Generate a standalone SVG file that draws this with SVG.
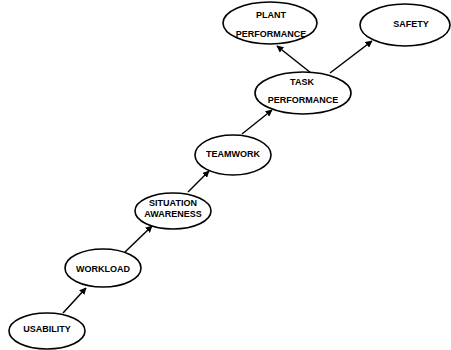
<svg xmlns="http://www.w3.org/2000/svg" width="451" height="350" viewBox="0 0 451 350">
<defs>
<style>
.n ellipse{fill:#fff;stroke:#000;stroke-width:1.6}
.n text{font-family:"Liberation Sans",Arial,sans-serif;font-weight:bold;font-size:9px;text-anchor:middle;fill:#000}
.c line{stroke:#000;stroke-width:1.5;marker-end:url(#ah)}
</style>
<marker id="ah" viewBox="0 0 10 10" refX="9" refY="5" markerWidth="7" markerHeight="7" markerUnits="userSpaceOnUse" orient="auto">
<path d="M0,0 L10,5 L0,10 z" fill="#000"/>
</marker>
</defs>
<rect width="451" height="350" fill="#fff"/>
<g id="connectors" class="c">
<line x1="63" y1="313" x2="86" y2="288"/>
<line x1="125" y1="252" x2="152" y2="226"/>
<line x1="188" y1="192" x2="209" y2="171"/>
<line x1="242" y1="134" x2="272" y2="110"/>
<line x1="311" y1="73" x2="277" y2="46"/>
<line x1="330" y1="73" x2="372" y2="41"/>
</g>
<g id="usability" class="n"><ellipse cx="47" cy="331" rx="38" ry="18"/><text x="47" y="332">USABILITY</text></g>
<g id="workload" class="n"><ellipse cx="103" cy="268" rx="38" ry="19"/><text x="103" y="272">WORKLOAD</text></g>
<g id="situation-awareness" class="n"><ellipse cx="173" cy="211" rx="38" ry="18"/><text x="173" y="206">SITUATION</text><text x="173" y="217">AWARENESS</text></g>
<g id="teamwork" class="n"><ellipse cx="233" cy="155" rx="38" ry="20"/><text x="233" y="157">TEAMWORK</text></g>
<g id="task-performance" class="n"><ellipse cx="303" cy="93" rx="48" ry="21"/><text x="302" y="85">TASK</text><text x="303" y="103">PERFORMANCE</text></g>
<g id="plant-performance" class="n"><ellipse cx="270" cy="23" rx="47" ry="21"/><text x="271" y="18">PLANT</text><text x="271" y="37">PERFORMANCE</text></g>
<g id="safety" class="n"><ellipse cx="405" cy="25" rx="45" ry="21"/><text x="411" y="27">SAFETY</text></g>
</svg>
